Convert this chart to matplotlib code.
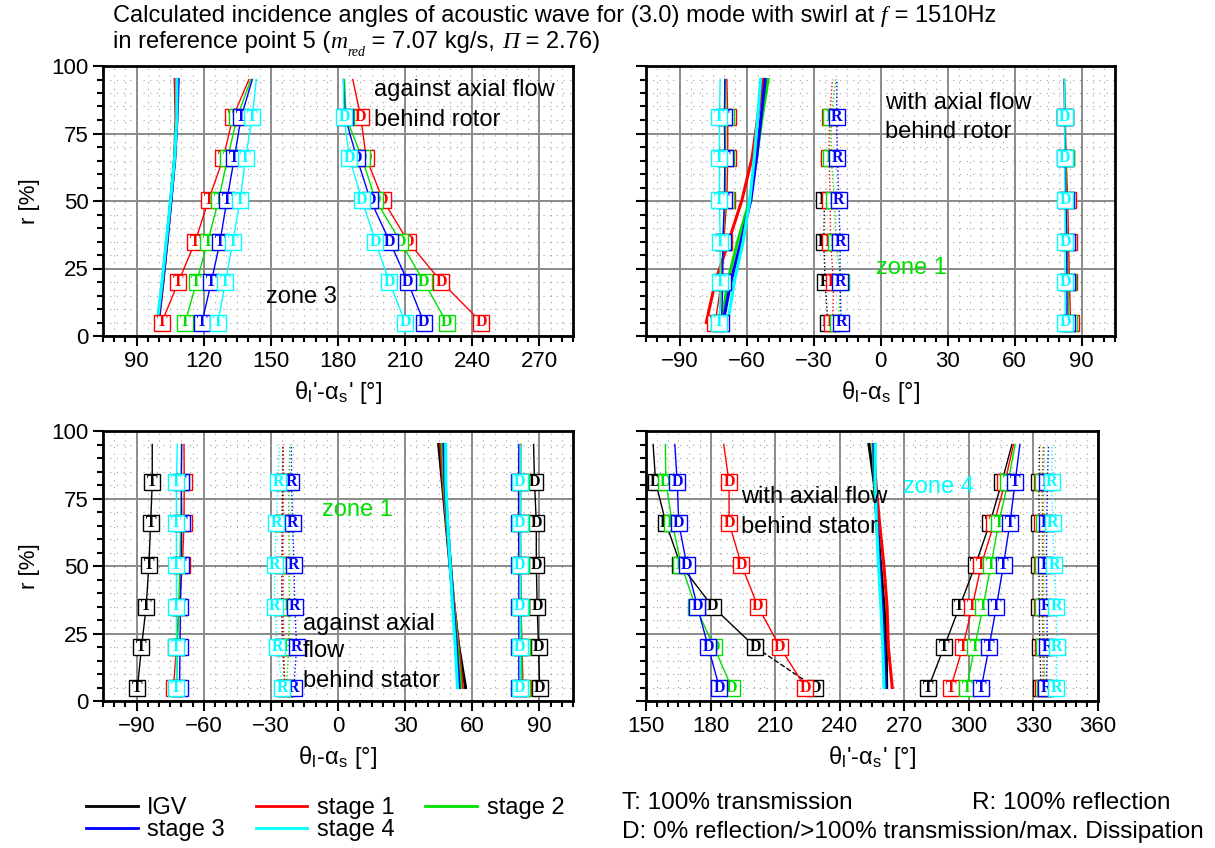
import matplotlib
matplotlib.use("Agg")
import matplotlib.pyplot as plt
from matplotlib.lines import Line2D
from matplotlib.ticker import MultipleLocator
from matplotlib.transforms import IdentityTransform

plt.rcParams["font.family"] = ["Liberation Sans", "DejaVu Sans"]
plt.rcParams["mathtext.fontset"] = "stix"

# radial positions [%] of the computed points (markers on the first six)
r_pts = [5, 20, 35, 50.5, 66, 81, 95]

series = ["IGV", "stage 1", "stage 2", "stage 3", "stage 4"]
colors = ["black", "#ff0000", "#00e000", "#0000ff", "#00ffff"]

# --- against axial flow, behind rotor (theta_l' - alpha_s') ---
tl_plain = {1: [99.8, 101.8, 103.6, 105.4, 107.0, 107.6, 107.2],
            2: [99.4, 101.5, 103.4, 105.3, 107.0, 108.0, 108.3],
            3: [99.6, 101.7, 103.6, 105.4, 107.1, 108.1, 108.6],
            4: [99.2, 101.4, 103.3, 105.2, 107.0, 108.0, 108.0]}
tl_T = {1: [101.2, 108.7, 116.2, 122.2, 128.8, 133.0, 140.2],
        2: [111.7, 116.8, 121.8, 126.7, 130.7, 134.9, 141.1],
        3: [119.2, 123.4, 127.3, 130.4, 133.7, 136.7, 141.7],
        4: [126.3, 129.7, 133.0, 136.3, 138.7, 141.7, 143.5]}
tl_D = {1: [244.1, 226.2, 211.3, 200.0, 192.6, 190.2, 186.6],
        2: [228.6, 218.4, 207.9, 196.7, 190.7, 183.6, 182.9],
        3: [218.4, 211.2, 203.1, 194.4, 188.4, 183.2, 182.4],
        4: [210.1, 202.9, 196.7, 190.7, 185.1, 182.7, 182.4]}

# --- with axial flow, behind rotor (theta_l - alpha_s) ---
tr_plain = {1: [-78.0, -74.0, -68.0, -62.0, -57.5, -55.0, -52.5],
            2: [-71.0, -68.5, -64.0, -58.5, -55.5, -53.0, -50.3],
            3: [-70.5, -67.0, -62.5, -58.0, -55.5, -53.5, -51.6],
            4: [-68.4, -65.5, -61.5, -58.5, -56.5, -55.0, -53.7]}
tr_T = {1: [-74.0, -71.3, -70.2, -68.8, -68.4, -68.4, -68.8],
        2: [-72.5, -71.0, -70.6, -69.4, -69.4, -69.2, -69.4],
        3: [-71.2, -70.6, -70.6, -69.9, -69.7, -69.9, -69.7],
        4: [-72.1, -71.8, -71.8, -72.1, -72.1, -72.1, -71.8]}
tr_R = {0: [-23.6, -24.8, -25.4, -25.1],
        1: [-21.5, -21.0, -22.4, -22.5, -23.1, -22.8, -21.5],
        2: [-19.0, -17.6, -20.0, -20.6, -22.1, -22.1, -20.0],
        3: [-17.6, -18.1, -18.1, -18.7, -19.3, -19.6, -19.5]}
tr_D = {1: [85.1, 84.6, 84.2, 83.8, 83.1, 82.7, 82.4],
        2: [84.2, 84.0, 83.6, 83.2, 82.9, 82.6, 82.4],
        3: [83.5, 83.5, 83.3, 83.0, 82.6, 82.4, 82.2],
        4: [82.7, 82.6, 82.6, 82.6, 82.5, 82.5, 82.3]}

# --- against axial flow, behind stator (theta_l - alpha_s) ---
bl_T = {0: [-89.6, -87.8, -85.7, -84.5, -83.7, -83.0, -83.0],
        1: [-73.5, -72.2, -71.0, -69.5, -68.8, -68.7, -68.8],
        2: [-72.0, -71.8, -71.2, -70.6, -70.3, -70.0, -70.0],
        3: [-70.8, -70.6, -70.4, -70.0, -69.8, -70.0, -69.8],
        4: [-72.2, -72.2, -72.2, -72.2, -72.2, -72.2, -71.8]}
bl_R = {0: [-23.5, -24.8, -25.2, -25.0, -25.0, -24.8, -24.6],
        1: [-24.0, -24.2, -24.5, -24.6, -24.5, -24.3, -24.5],
        2: [-23.0, -22.0, -21.8, -21.8, -22.0, -22.0, -21.5],
        3: [-19.7, -18.5, -19.3, -19.7, -20.3, -20.8, -20.8],
        4: [-24.8, -27.1, -28.3, -28.3, -27.5, -26.8, -26.2]}
bl_plain = {0: [57.0, 54.0, 51.8, 50.0, 48.3, 46.6, 45.0],
            1: [55.6, 53.8, 51.9, 50.2, 48.5, 47.0, 45.9],
            2: [54.9, 53.4, 51.7, 50.2, 48.7, 47.4, 46.6],
            3: [54.1, 52.9, 51.5, 50.2, 48.9, 47.8, 47.4],
            4: [53.4, 52.4, 51.2, 50.1, 49.0, 48.2, 48.1]}
bl_D = {0: [90.1, 89.6, 89.0, 88.6, 88.6, 87.8, 87.4],
        1: [82.7, 82.2, 81.8, 81.6, 81.5, 81.5, 81.6],
        2: [82.2, 82.0, 81.8, 81.6, 81.6, 81.7, 81.7],
        3: [80.8, 80.8, 80.8, 80.8, 80.7, 80.7, 80.8],
        4: [81.1, 81.1, 81.1, 81.1, 81.1, 81.1, 81.1]}

# --- with axial flow, behind stator (theta_l' - alpha_s') ---
br_D = {0: [228.6, 200.7, 180.9, 166.0, 159.2, 154.5, 153.3],
        1: [224.1, 212.2, 202.0, 194.3, 188.6, 188.6, 186.1],
        2: [189.8, 181.6, 173.0, 166.3, 162.2, 159.2, 159.0],
        3: [184.1, 178.9, 173.9, 168.9, 165.2, 164.5, 163.4]}
br_plain = {0: [261.8, 261.6, 260.6, 259.0, 257.5, 256.0, 253.6],
            1: [264.4, 262.6, 262.0, 260.5, 258.5, 256.8, 255.6],
            2: [261.0, 260.5, 259.5, 258.3, 257.2, 256.2, 255.4],
            3: [261.2, 260.6, 259.6, 258.4, 257.3, 256.4, 255.9],
            4: [260.6, 260.0, 259.1, 258.0, 257.1, 256.5, 256.5]}
br_T = {0: [281.2, 288.5, 295.7, 303.1, 309.8, 315.3, 320.0],
        1: [291.6, 297.2, 301.6, 305.8, 311.8, 316.8, 320.7],
        2: [299.0, 302.7, 306.6, 310.3, 313.9, 318.2, 321.5],
        3: [305.8, 309.4, 312.8, 316.1, 319.1, 321.5, 323.7]}
br_R = {0: [333.5, 333.0, 332.6, 332.6, 332.6, 332.6, 332.8],
        1: [334.5, 334.5, 334.0, 334.2, 334.2, 334.0, 334.6],
        2: [335.2, 335.0, 334.6, 334.6, 334.8, 334.5, 335.0],
        3: [336.0, 336.5, 336.2, 336.0, 336.2, 336.5, 337.0],
        4: [340.7, 340.9, 340.7, 339.7, 338.9, 338.6, 338.6]}

W, H = 1215, 848
fig = plt.figure(figsize=(W / 100, H / 100), dpi=100)


def make_axes(x0, x1, ytop, ybot):
    return fig.add_axes([x0 / W, 1 - ybot / H, (x1 - x0) / W, (ybot - ytop) / H])


def style(ax, xlim, xmajor, ylabels=True):
    ax.set_xlim(*xlim)
    ax.set_ylim(0, 100)
    ax.xaxis.set_minor_locator(MultipleLocator(5))
    ax.yaxis.set_major_locator(MultipleLocator(25))
    ax.yaxis.set_minor_locator(MultipleLocator(5))
    ax.set_xticks(xmajor)
    ax.set_axisbelow(True)
    ax.grid(which="major", color="#8a8a8a", lw=1.4)
    ax.grid(which="minor", color="#a0a0a0", lw=0.8, ls=(0, (1, 5)))
    ax.tick_params(which="both", direction="out", width=1.5, labelsize=16,
                   top=False, right=False)
    ax.tick_params(which="major", length=7)
    ax.tick_params(which="minor", length=4)
    for s in ax.spines.values():
        s.set_linewidth(2)
    if ylabels:
        ax.set_ylabel("r [%]", fontsize=16, labelpad=8)
    else:
        ax.set_yticklabels([])


def branch(ax, data, letter=None, ls="-", lw=1.0, nmark=6):
    for si, xs in data.items():
        c = colors[si]
        rs = r_pts[:len(xs)]
        ax.plot(xs, rs, color=c, lw=lw, ls=ls, zorder=3 + 0.1 * si)
        if letter is None:
            continue
        for x, r in list(zip(xs, rs))[:nmark]:
            ax.plot(x, r, marker="s", ms=12, mfc="white", mec=c, mew=1.0,
                    zorder=10 + 2 * si)
            ax.text(x, r, letter, color=c, ha="center", va="center",
                    fontsize=11.5, fontweight="bold", family="Liberation Serif",
                    zorder=11 + 2 * si)


def note(ax, x, y, s, color="black"):
    ax.text(x, y, s, fontsize=17, color=color, va="center", zorder=30)


ax1 = make_axes(103, 573, 66, 336)
ax2 = make_axes(646, 1115, 66, 336)
ax3 = make_axes(103, 573, 431, 701)
ax4 = make_axes(646, 1098, 431, 701)

lbl_prime = "θ$_\\mathregular{l}$'-α$_\\mathregular{s}$' [°]"
lbl_plain = "θ$_\\mathregular{l}$-α$_\\mathregular{s}$ [°]"

style(ax1, (75, 285), range(90, 271, 30))
branch(ax1, tl_plain, lw=2.2)
branch(ax1, tl_T, "T")
branch(ax1, tl_D, "D")
ax1.set_xlabel(lbl_prime, fontsize=17, labelpad=5)
note(ax1, 196, 91, "against axial flow")
note(ax1, 196, 80, "behind rotor")
note(ax1, 148, 14.5, "zone 3")

style(ax2, (-105, 105), range(-90, 91, 30), ylabels=False)
branch(ax2, tr_T, "T")
branch(ax2, tr_plain, lw=2.2)
branch(ax2, tr_R, "R", ls=":")
branch(ax2, tr_D, "D")
ax2.set_xlabel(lbl_plain, fontsize=17, labelpad=5)
note(ax2, 2, 86.3, "with axial flow")
note(ax2, 2, 75.6, "behind rotor")
note(ax2, -1.8, 25.2, "zone 1", colors[2])

style(ax3, (-105, 105), range(-90, 91, 30))
branch(ax3, bl_T, "T")
branch(ax3, bl_R, "R", ls=":")
branch(ax3, bl_plain, lw=2.2)
branch(ax3, bl_D, "D")
ax3.set_xlabel(lbl_plain, fontsize=17, labelpad=5)
note(ax3, -7, 70.7, "zone 1", colors[2])
note(ax3, -15.7, 28.5, "against axial")
note(ax3, -15.7, 18.5, "flow")
note(ax3, -15.7, 7.4, "behind stator")

style(ax4, (150, 360), range(150, 361, 30), ylabels=False)
# IGV branch: dashed between the two lowest points
igv = br_D[0]
ax4.plot(igv[:2], r_pts[:2], color="black", lw=1.0, ls="--", zorder=3)
ax4.plot(igv[1:], r_pts[1:], color="black", lw=1.0, zorder=3)
branch(ax4, {0: igv}, "D", ls="none")
branch(ax4, {k: v for k, v in br_D.items() if k > 0}, "D")
branch(ax4, br_plain, lw=2.2)
branch(ax4, br_T, "T")
branch(ax4, br_R, "R", ls=":")
ax4.set_xlabel(lbl_prime, fontsize=17, labelpad=5)
note(ax4, 194, 75.6, "with axial flow")
note(ax4, 194, 64.4, "behind stator")
note(ax4, 269.6, 79.3, "zone 4", colors[4])


def chain(x, y, pieces):
    """Write text pieces one after another on a common baseline (pixels)."""
    renderer = fig.canvas.get_renderer()
    for s, kw, dy in pieces:
        t = fig.text(x, y + dy, s, transform=IdentityTransform(),
                     va="baseline", **kw)
        x += t.get_window_extent(renderer).width


sans = dict(fontsize=17)
serif_it = dict(fontsize=17, family="Liberation Serif", style="italic")
chain(113, H - 22, [
    ("Calculated incidence angles of acoustic wave for (3.0) mode with swirl at ", sans, 0),
    ("f", serif_it, 0),
    (" = 1510Hz", sans, 0)])
chain(113, H - 48, [
    ("in reference point 5 (", sans, 0),
    ("m", serif_it, 0),
    ("red", dict(fontsize=10, family="Liberation Serif", style="italic"), -8),
    (" = 7.07 kg/s, ", sans, 0),
    ("Π", serif_it, 0),
    (" = 2.76)", sans, 0)])

handles = [Line2D([], [], color=c, lw=2) for c in colors]
order = [0, 3, 1, 4, 2]
fig.legend([handles[i] for i in order], [series[i] for i in order],
           loc="upper left", bbox_to_anchor=(74 / W, 1 - 785 / H), ncol=3,
           frameon=False, fontsize=17, handlelength=2.2, handletextpad=0.4,
           columnspacing=1.3, labelspacing=0.0, borderpad=0)

fig.text(622 / W, 1 - 803 / H, "T: 100% transmission", fontsize=17.5, va="center")
fig.text(972 / W, 1 - 803 / H, "R: 100% reflection", fontsize=17.5, va="center")
fig.text(622 / W, 1 - 832 / H, "D: 0% reflection/>100% transmission/max. Dissipation",
         fontsize=17.5, va="center")

fig.savefig("out.png", dpi=100)
